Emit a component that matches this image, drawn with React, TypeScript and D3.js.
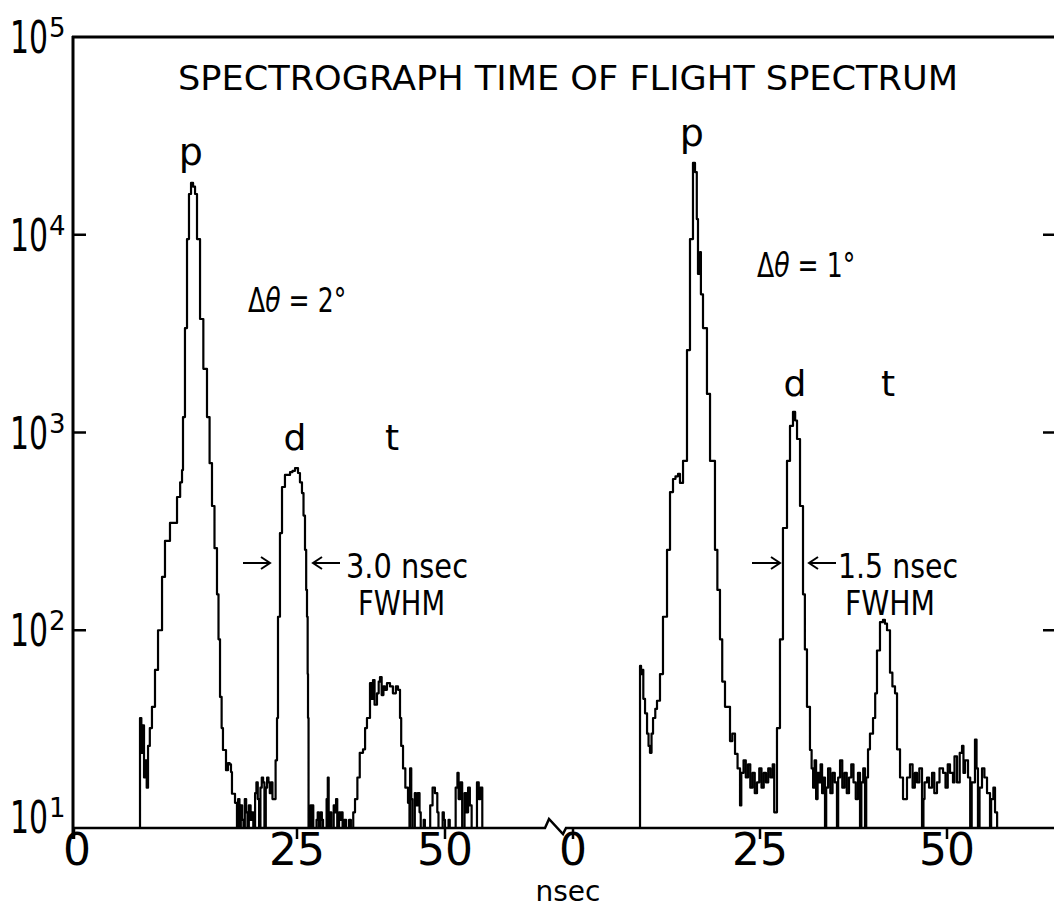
import * as d3 from "d3";
import { useEffect, useRef } from "react";

// time (nsec), counts ; 0 = nothing above the 10-count floor
const leftSpectrum: [number, number][] = [
  [7.3, 0], [7.4, 36], [7.55, 24], [7.7, 33], [7.85, 18], [8.0, 22], [8.15, 16], [8.3, 26],
  [8.5, 32], [8.74, 41], [9.08, 63], [9.42, 100], [9.87, 186], [10.2, 283], [10.76, 349],
  [11.55, 472], [11.9, 560], [12.11, 646], [12.22, 1197], [12.44, 3375], [12.67, 9510],
  [12.89, 16070], [13.12, 18280], [13.35, 17500], [13.57, 16070], [13.79, 9510], [14.13, 3750],
  [14.5, 2100], [14.91, 1197], [15.2, 700], [15.47, 425], [15.75, 260], [16.03, 152], [16.2, 90],
  [16.37, 46], [16.55, 32], [16.7, 24.8], [17.04, 19.6], [17.26, 21.3], [17.45, 21], [17.6, 19.2],
  [17.71, 14.9], [18.05, 13.4], [18.27, 0],
  [18.4, 14], [18.55, 0], [18.7, 13], [18.85, 11], [19.0, 0], [19.15, 14], [19.3, 12], [19.45, 0],
  [19.6, 13], [19.8, 11], [19.95, 12], [20.1, 0], [20.3, 15], [20.45, 17], [20.6, 14], [20.75, 0],
  [20.9, 16], [21.05, 18], [21.2, 17], [21.35, 0], [21.5, 16], [21.65, 18], [21.8, 17], [21.95, 15],
  [22.1, 17], [22.25, 14],
  [22.42, 14], [22.6, 22], [22.76, 36], [22.87, 117], [23.09, 310], [23.32, 530], [23.65, 610],
  [24.22, 631], [24.5, 640], [24.78, 661], [25.17, 624], [25.5, 560], [25.84, 494], [26.1, 380],
  [26.35, 255], [26.55, 160], [26.69, 117], [26.8, 60], [26.86, 36], [26.95, 0],
  [27.3, 13], [27.45, 0], [27.6, 13], [27.75, 0], [28.3, 11], [28.5, 12], [28.7, 0], [29.0, 12],
  [29.2, 11], [29.4, 0], [30.0, 14], [30.2, 18], [30.35, 0], [30.6, 12], [30.8, 0], [31.2, 13],
  [31.4, 12], [31.6, 14], [31.8, 0], [32.1, 12], [32.3, 11], [32.5, 12], [32.7, 0], [33.0, 11],
  [33.3, 0], [33.8, 11], [34.1, 0], [34.5, 12],
  [34.8, 14], [35.2, 18], [35.6, 24], [36.15, 25], [36.5, 32], [36.82, 36], [37.33, 54], [37.6, 45],
  [37.84, 56], [38.1, 42], [38.51, 48], [38.8, 55], [39.02, 58], [39.3, 47], [39.6, 52], [39.86, 50],
  [40.2, 54], [40.71, 52], [41.2, 48], [41.7, 52], [42.06, 50], [42.4, 36], [42.6, 26], [42.91, 20],
  [43.3, 16], [43.75, 13.4], [44.0, 0],
  [44.1, 20], [44.3, 14], [44.5, 0], [44.9, 15], [45.1, 13], [45.4, 15], [45.7, 12], [45.9, 0],
  [46.4, 11], [46.6, 0], [47.5, 13], [47.9, 16], [48.3, 15], [48.7, 12], [48.9, 0], [49.6, 12],
  [49.8, 11], [50.0, 0], [50.6, 11], [50.8, 0], [51.8, 16], [52.1, 19], [52.3, 14], [52.6, 17],
  [52.9, 0], [53.3, 15], [53.6, 12], [53.9, 16], [54.2, 13], [54.5, 0], [55.4, 17], [55.7, 14],
  [56.0, 16], [56.3, 0],
];

const rightSpectrum: [number, number][] = [
  [8.9, 0], [8.96, 66], [9.1, 60], [9.22, 63], [9.4, 45], [9.63, 38], [9.9, 30], [10.1, 26],
  [10.29, 24], [10.5, 30], [10.7, 36], [11.0, 40], [11.23, 44], [11.63, 60], [12.03, 117],
  [12.57, 255], [12.97, 500], [13.37, 582], [13.7, 600], [14.04, 617], [14.3, 556], [14.71, 718],
  [15.24, 2612], [15.64, 9510], [16.04, 23070], [16.31, 20750], [16.55, 12000], [16.71, 6340],
  [16.98, 8180], [17.1, 5000], [17.38, 3375], [17.91, 1567], [18.32, 718], [18.98, 255],
  [19.3, 160], [19.65, 90], [19.95, 55], [20.32, 41], [20.99, 27.5], [21.3, 30], [21.66, 23.7],
  [22.0, 20], [22.33, 13], [22.5, 19], [22.8, 22], [23.1, 18], [23.4, 21], [23.7, 16], [24.0, 19],
  [24.3, 15], [24.6, 17], [24.9, 20], [25.2, 16], [25.5, 19], [25.8, 17], [26.1, 20], [26.4, 18],
  [26.7, 21], [26.9, 12],
  [27.01, 12], [27.27, 32], [27.67, 90], [28.07, 329], [28.61, 718], [29.01, 1079], [29.41, 1270],
  [29.7, 1150], [29.95, 927], [30.35, 425], [30.75, 152], [31.0, 80], [31.28, 41], [31.68, 24.8],
  [31.9, 20], [32.1, 16], [32.3, 22], [32.5, 14], [32.7, 19], [32.9, 17], [33.1, 21], [33.3, 15],
  [33.5, 18], [33.69, 0], [33.85, 16], [34.1, 20], [34.4, 15], [34.7, 19], [35.0, 17], [35.29, 0],
  [35.45, 18], [35.7, 22], [36.0, 16], [36.3, 19], [36.6, 15], [36.9, 18], [37.2, 21], [37.5, 17],
  [37.8, 14], [38.1, 19], [38.37, 0], [38.55, 17], [38.8, 20], [39.04, 0], [39.2, 18],
  [39.44, 25], [39.7, 30], [40.11, 36], [40.4, 48], [40.64, 79], [41.04, 110], [41.44, 113],
  [41.7, 108], [41.98, 100], [42.38, 61], [42.7, 52], [43.05, 48], [43.32, 25], [43.72, 18],
  [44.12, 14],
  [44.65, 18], [45.05, 21], [45.4, 16], [45.7, 19], [45.99, 17], [46.3, 20], [46.66, 0], [46.85, 14],
  [47.0, 17], [47.33, 18], [47.6, 16], [48.0, 19], [48.3, 15], [48.66, 17], [49.0, 20], [49.47, 19],
  [49.8, 16], [50.1, 21], [50.4, 19], [50.8, 17], [51.0, 23], [51.34, 17], [51.7, 24], [52.01, 26],
  [52.2, 19], [52.41, 22], [52.81, 18], [53.1, 0], [53.3, 17], [53.74, 28], [53.95, 20], [54.14, 0],
  [54.35, 16], [54.68, 20], [55.0, 18], [55.35, 15], [55.75, 0], [55.9, 14], [56.2, 16], [56.42, 12],
  [56.7, 0],
];

const decades = [1, 2, 3, 4, 5];
const timeTicks = [0, 25, 50];
const title = "SPECTROGRAPH TIME OF FLIGHT SPECTRUM";

export default function App() {
  const ref = useRef<SVGSVGElement>(null);

  useEffect(() => {
    if (!ref.current) return;
    document.body.style.margin = "0";
    document.body.style.overflow = "hidden";

    const svg = d3.select(ref.current);
    svg.selectAll("*").remove();

    const width = 1054, height = 909;
    const top = 37, base = 828, axisX = 73;
    const font = "'DejaVu Sans', sans-serif";

    const y = d3.scaleLog().domain([10, 1e5]).range([base, top]);
    // hand-drawn axis: left panel spacing is not even
    const xL = d3.scaleLinear().domain([0, 25, 50]).range([74, 297, 445]);
    const xR = d3.scaleLinear().domain([0, 50]).range([573, 947]);

    svg.append("rect").attr("width", width).attr("height", height).attr("fill", "#fff");

    // frame
    svg.append("line")
      .attr("x1", axisX).attr("x2", axisX).attr("y1", top - 1).attr("y2", base + 11)
      .attr("stroke", "#000").attr("stroke-width", 3);
    svg.append("line")
      .attr("x1", axisX - 1).attr("x2", width).attr("y1", top).attr("y2", top)
      .attr("stroke", "#000").attr("stroke-width", 3);

    // bottom axis with break
    const brk = 545;
    svg.append("path")
      .attr("d", `M${axisX},${base}H${brk}L${brk + 4},${base - 9}L${brk + 18},${base + 6}L${brk + 21},${base}H${width}`)
      .attr("fill", "none").attr("stroke", "#000").attr("stroke-width", 2.5);

    [xL, xR].forEach((xs) => {
      svg.append("g").selectAll("line").data(timeTicks).join("line")
        .attr("x1", (d) => xs(d)).attr("x2", (d) => xs(d))
        .attr("y1", base).attr("y2", base + 11)
        .attr("stroke", "#000").attr("stroke-width", 2.5);
      svg.append("g").selectAll("text").data(timeTicks).join("text")
        .attr("x", (d) => xs(d) + (d === 0 && xs === xL ? 3 : 0))
        .attr("y", 865)
        .attr("text-anchor", "middle")
        .attr("font-family", font).attr("font-size", 44)
        .text((d) => String(d));
    });

    svg.append("text")
      .attr("x", 568).attr("y", 901)
      .attr("text-anchor", "middle")
      .attr("font-family", font).attr("font-size", 28)
      .text("nsec");

    // y ticks, both sides
    const inner = decades.filter((e) => e > 1 && e < 5);
    svg.append("g").selectAll("line").data(inner).join("line")
      .attr("x1", axisX).attr("x2", axisX + 13)
      .attr("y1", (e) => y(10 ** e)).attr("y2", (e) => y(10 ** e))
      .attr("stroke", "#000").attr("stroke-width", 2.5);
    svg.append("g").selectAll("line").data(inner).join("line")
      .attr("x1", width - 11).attr("x2", width)
      .attr("y1", (e) => y(10 ** e)).attr("y2", (e) => y(10 ** e))
      .attr("stroke", "#000").attr("stroke-width", 2.5);

    const yl = svg.append("g").attr("font-family", font);
    decades.forEach((e) => {
      const yy = e === 1 ? y(10) + 5 : Math.max(y(10 ** e) + 16, 53);
      // narrow "10", squeezed horizontally like the hand lettering
      yl.append("text")
        .attr("transform", `translate(10,${yy}) scale(0.68,1)`)
        .attr("font-size", 44).text("10");
      yl.append("text").attr("x", 49).attr("y", yy - 16)
        .attr("font-size", 26).text(String(e));
    });

    // spectra
    const clip = (c: number) => y(Math.max(c, 10));
    const lineL = d3.line<[number, number]>().x((d) => xL(d[0])).y((d) => clip(d[1])).curve(d3.curveStepAfter);
    const lineR = d3.line<[number, number]>().x((d) => xR(d[0])).y((d) => clip(d[1])).curve(d3.curveStepAfter);

    svg.append("path").datum(leftSpectrum).attr("d", lineL)
      .attr("fill", "none").attr("stroke", "#000").attr("stroke-width", 2.2).attr("stroke-linejoin", "round");
    svg.append("path").datum(rightSpectrum).attr("d", lineR)
      .attr("fill", "none").attr("stroke", "#000").attr("stroke-width", 2.2).attr("stroke-linejoin", "round");

    // labels
    const txt = (s: string, x: number, yy: number, size: number, len?: number, anchor = "start") => {
      const t = svg.append("text").attr("x", x).attr("y", yy)
        .attr("font-family", font).attr("font-size", size)
        .attr("text-anchor", anchor).text(s);
      if (len) t.attr("textLength", len).attr("lengthAdjust", "spacingAndGlyphs");
      return t;
    };
    const delta = (deg: string, x: number, yy: number) => {
      const t = svg.append("text")
        .attr("transform", `translate(${x},${yy}) scale(0.74,1)`)
        .attr("font-family", font).attr("font-size", 34);
      t.append("tspan").text("Δ");
      t.append("tspan").attr("font-style", "italic").text("θ");
      t.append("tspan").text(` = ${deg}°`);
    };

    txt(title, 178, 90, 34, 780);
    txt("p", xL(13.1), 165, 38, undefined, "middle");
    txt("p", xR(15.9), 146, 38, undefined, "middle");
    txt("d", 295, 450, 36, undefined, "middle");
    txt("t", 392, 450, 36, undefined, "middle");
    txt("d", 795, 396, 36, undefined, "middle");
    txt("t", 888, 396, 36, undefined, "middle");
    delta("2", 248, 312);
    delta("1", 757, 277);
    txt("3.0 nsec", 346, 578, 34, 122);
    txt("FWHM", 358, 615, 34, 87);
    txt("1.5 nsec", 838, 578, 34, 120);
    txt("FWHM", 845, 615, 34, 90);

    const arrow = (x1: number, x2: number, yy: number) => {
      const dir = Math.sign(x2 - x1);
      svg.append("path")
        .attr("d", `M${x1},${yy}H${x2}M${x2 - dir * 9},${yy - 6}L${x2},${yy}L${x2 - dir * 9},${yy + 6}`)
        .attr("fill", "none").attr("stroke", "#000").attr("stroke-width", 2);
    };
    arrow(243, 270, 563);
    arrow(340, 313, 563);
    arrow(752, 780, 563);
    arrow(836, 809, 563);
  }, []);

  return <svg ref={ref} width={1054} height={909} style={{ display: "block" }} />;
}
